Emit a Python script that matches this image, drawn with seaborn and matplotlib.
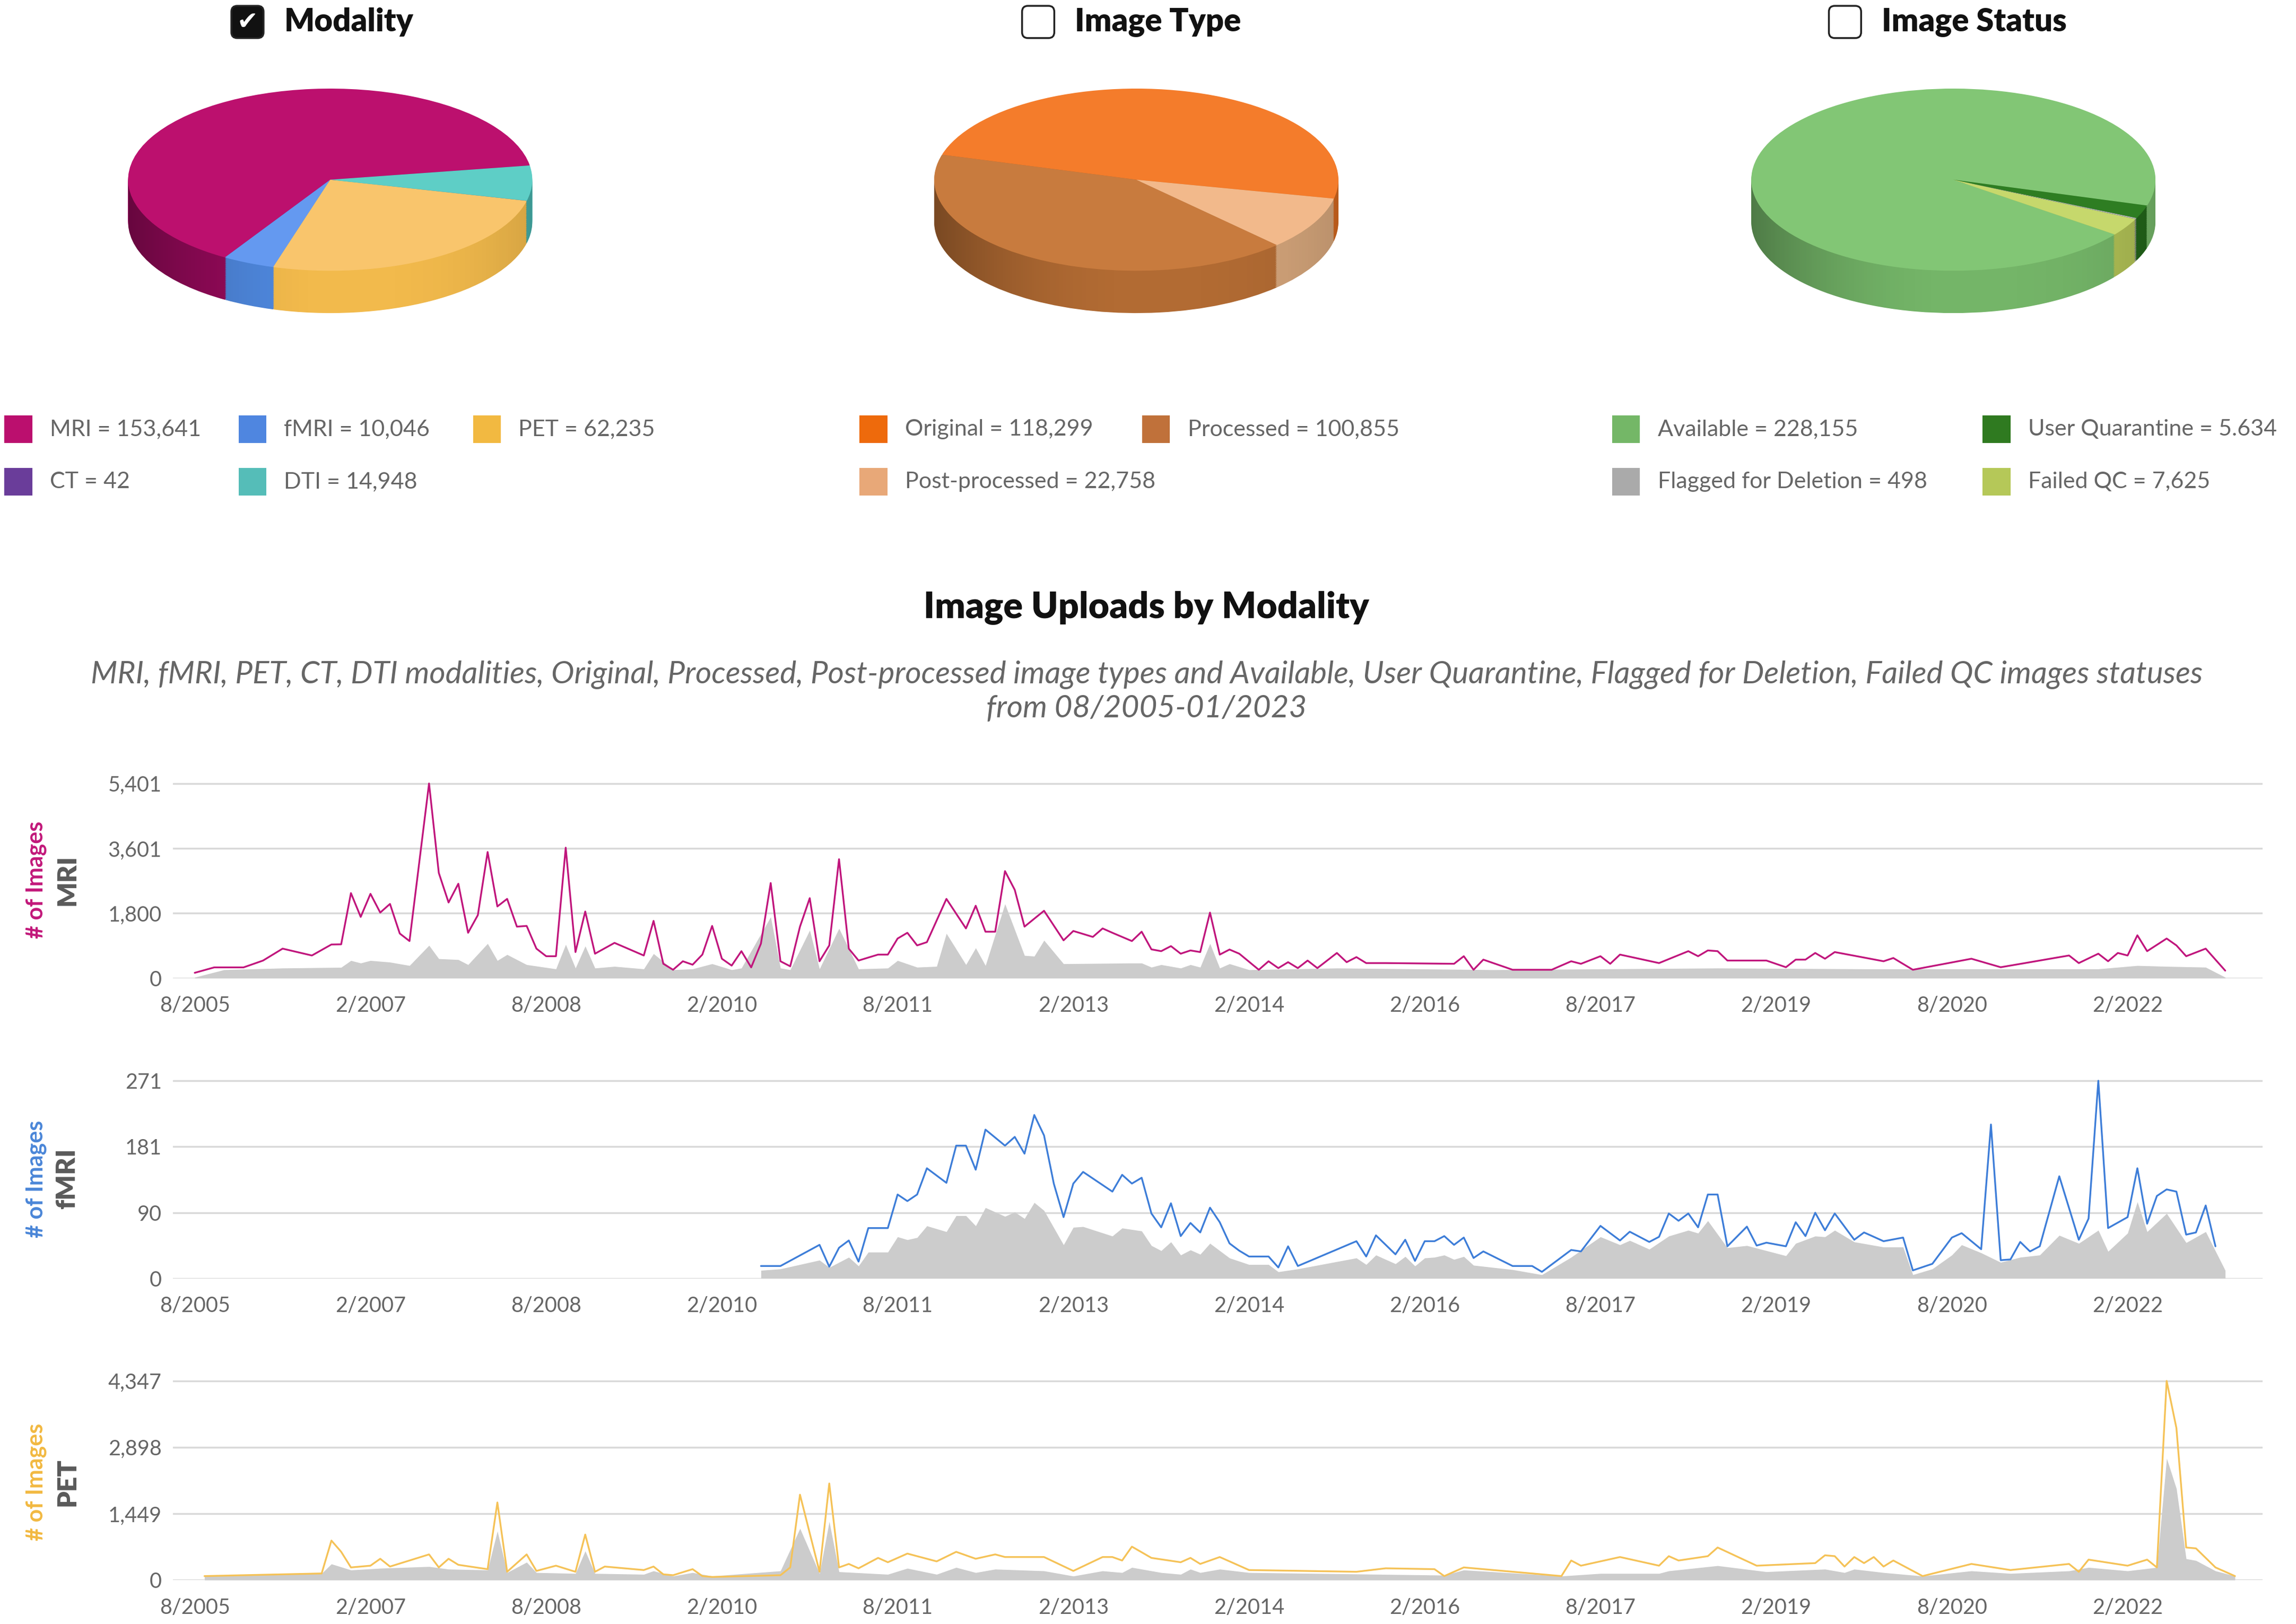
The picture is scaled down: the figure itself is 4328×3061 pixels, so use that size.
import matplotlib
matplotlib.use("Agg")
import matplotlib.pyplot as plt
import matplotlib.patches as mpatches
import numpy as np
import seaborn as sns

# --------------------------------------------------------------
# Data
# --------------------------------------------------------------
modality_labels = ["MRI", "fMRI", "PET", "CT", "DTI"]
modality_values = [153641, 10046, 62235, 42, 14948]
type_labels = ["Original", "Processed", "Post-processed"]
type_values = [118299, 100855, 22758]
status_labels = ["Available", "User Quarantine", "Flagged for Deletion", "Failed QC"]
status_values = [228155, 5634, 498, 7625]
status_printed = ["228,155", "5.634", "498", "7,625"]  # as printed in the legend

x_tick_labels = ["8/2005", "2/2007", "8/2008", "2/2010", "8/2011", "2/2013",
                 "2/2014", "2/2016", "8/2017", "2/2019", "8/2020", "2/2022"]
labels_every = 18  # one label every 18 categories

# MRI uploads (category index, number of images)
mri_pos = [0, 2, 5, 7, 9, 12, 14, 15, 16, 17, 18, 19, 20, 21, 22, 24, 25, 26, 27, 28,
           29, 30, 31, 32, 33, 34, 35, 36, 37, 38, 39, 40, 41, 43, 46, 47, 48, 49, 50, 51,
           52, 53, 54, 55, 56, 57, 58, 59, 60, 61, 62, 63, 64, 65, 66, 67, 68, 70, 71, 72,
           73, 74, 75, 77, 79, 80, 81, 82, 83, 84, 85, 87, 89, 90, 92, 93, 94, 96, 97, 98,
           99, 100, 101, 102, 103, 104, 105, 106, 107, 109, 110, 111, 112, 113, 114, 115,
           117, 118, 119, 120, 122, 129, 130, 131, 132, 135, 139, 141, 142, 144, 145, 146,
           150, 153, 154, 155, 156, 157, 161, 163, 164, 165, 166, 167, 168, 173, 174, 176,
           182, 185, 192, 193, 195, 196, 197, 198, 199, 200, 202, 203, 204, 206, 208]
mri_val = [150, 300, 300, 490, 820, 630, 935, 940, 2360, 1700, 2340, 1820, 2060, 1240, 1030,
           5401, 2920, 2100, 2620, 1260, 1750, 3500, 1990, 2200, 1430, 1450, 820, 610, 610,
           3620, 725, 1850, 680, 980, 630, 1590, 400, 234, 470, 375, 655, 1450, 540, 350,
           750, 300, 960, 2640, 470, 330, 1430, 2220, 470, 910, 3300, 820, 490, 655, 655,
           1100, 1260, 910, 1000, 2200, 1380, 2010, 1290, 1290, 2970, 2450, 1430, 1870,
           1050, 1310, 1145, 1380, 1260, 1030, 1290, 800, 750, 890, 680, 770, 725, 1820,
           655, 795, 680, 234, 470, 280, 445, 280, 490, 280, 700, 445, 585, 420, 420, 400,
           610, 234, 515, 234, 234, 470, 400, 610, 400, 655, 420, 750, 610, 770, 750, 490,
           490, 304, 515, 515, 700, 540, 725, 470, 560, 234, 540, 304, 630, 420, 680, 470,
           700, 630, 1190, 750, 1100, 910, 610, 820, 210]
mri_fill_pos = [0, 3, 9, 15, 16, 17, 18, 20, 22, 24, 25, 27, 28, 30, 31, 32, 34, 37, 38, 39,
                40, 41, 43, 46, 47, 49, 51, 53, 55, 56, 59, 60, 61, 63, 64, 66, 68, 71, 72, 74,
                76, 77, 79, 80, 81, 83, 85, 86, 87, 89, 96, 97, 98, 99, 101, 102, 103, 104,
                105, 106, 108, 117, 133, 156, 171, 195, 199, 202, 206, 208]
mri_fill_val = [25, 234, 280, 300, 490, 420, 490, 445, 350, 910, 540, 515, 375, 960, 490, 655,
                375, 257, 935, 280, 890, 280, 327, 257, 680, 234, 257, 400, 234, 280, 1700,
                280, 234, 1330, 257, 1380, 257, 280, 490, 304, 327, 1240, 375, 840, 350, 2060,
                630, 610, 1050, 400, 420, 420, 304, 375, 280, 375, 304, 960, 280, 400, 234,
                280, 234, 280, 257, 257, 350, 327, 304, 25]

# fMRI uploads
fmri_pos = [58, 60, 64, 65, 66, 67, 68, 69, 71, 72, 73, 74, 75, 77, 78, 79, 80, 81, 83, 84,
            85, 86, 87, 88, 89, 90, 91, 94, 95, 96, 97, 98, 99, 100, 101, 102, 103, 104, 105,
            106, 107, 108, 110, 111, 112, 113, 119, 120, 121, 123, 124, 125, 126, 127, 128,
            129, 130, 131, 132, 135, 137, 138, 141, 142, 144, 146, 147, 149, 150, 151, 152,
            153, 154, 155, 156, 157, 159, 160, 161, 163, 164, 165, 166, 167, 168, 170, 171,
            173, 175, 176, 178, 180, 181, 183, 184, 185, 186, 187, 188, 189, 191, 193, 194,
            195, 196, 198, 199, 200, 201, 202, 203, 204, 205, 206, 207]
fmri_val = [17, 17, 46, 16, 42, 52, 23, 69, 69, 115, 106, 115, 151, 131, 182, 182, 149, 204,
            182, 194, 171, 224, 196, 130, 84, 130, 146, 119, 142, 130, 138, 89, 70, 103, 58,
            76, 63, 97, 77, 48, 38, 30, 30, 15, 44, 17, 51, 30, 59, 33, 53, 24, 51, 51, 58,
            46, 56, 28, 37, 17, 17, 9, 39, 37, 72, 52, 64, 50, 57, 89, 79, 89, 70, 115, 115,
            44, 71, 45, 49, 44, 77, 58, 90, 66, 89, 53, 63, 51, 56, 11, 20, 56, 62, 40, 211,
            25, 26, 50, 37, 44, 140, 53, 82, 271, 69, 84, 151, 75, 113, 122, 119, 60, 63,
            100, 44]
fmri_fill_pos = [58, 60, 64, 65, 67, 68, 69, 71, 72, 73, 74, 75, 77, 78, 79, 80, 81, 83, 84,
                 85, 86, 87, 89, 90, 91, 94, 95, 97, 98, 99, 100, 101, 102, 103, 104, 106, 108,
                 110, 111, 113, 119, 120, 121, 123, 124, 125, 126, 127, 128, 129, 130, 131,
                 135, 138, 141, 144, 146, 147, 149, 151, 153, 154, 155, 157, 159, 163, 164,
                 166, 167, 168, 170, 173, 175, 176, 178, 180, 181, 183, 185, 187, 189, 191,
                 193, 195, 196, 198, 199, 200, 202, 204, 206, 208]
fmri_fill_val = [11, 13, 25, 15, 29, 17, 36, 36, 57, 53, 56, 72, 64, 86, 86, 72, 97, 85, 91,
                 82, 104, 93, 46, 70, 71, 58, 69, 65, 45, 38, 50, 32, 39, 33, 48, 28, 19, 19,
                 9, 13, 28, 19, 32, 20, 30, 17, 28, 29, 32, 26, 30, 18, 12, 5, 29, 57, 46, 52,
                 40, 58, 66, 62, 79, 42, 45, 31, 48, 58, 57, 66, 50, 43, 43, 5, 13, 32, 46, 35,
                 22, 29, 32, 59, 48, 66, 37, 62, 105, 64, 89, 49, 64, 11]

# PET uploads
pet_pos = [1, 13, 14, 15, 16, 18, 19, 20, 24, 25, 26, 27, 30, 31, 32, 34, 35, 37, 39, 40, 41,
           42, 46, 47, 48, 49, 51, 52, 53, 60, 61, 62, 64, 65, 66, 67, 68, 70, 71, 73, 76, 78,
           80, 82, 83, 87, 90, 93, 94, 95, 96, 98, 101, 102, 103, 105, 108, 119, 122, 127,
           128, 130, 140, 141, 142, 146, 150, 151, 152, 155, 156, 160, 166, 167, 168, 169,
           170, 171, 172, 173, 174, 177, 182, 186, 192, 193, 194, 198, 200, 201, 202, 203,
           204, 205, 207, 209]
pet_val = [87, 144, 862, 617, 276, 314, 465, 295, 560, 276, 465, 333, 238, 1694, 181, 560,
           200, 314, 181, 994, 181, 295, 219, 295, 125, 106, 238, 87, 68, 106, 276, 1864, 181,
           2109, 276, 352, 257, 484, 389, 578, 408, 616, 465, 560, 503, 503, 200, 503, 503,
           427, 730, 484, 389, 484, 352, 503, 219, 181, 257, 238, 87, 276, 87, 427, 314, 503,
           314, 522, 427, 522, 711, 314, 370, 541, 522, 295, 503, 370, 503, 295, 427, 87, 352,
           219, 352, 181, 446, 314, 446, 276, 4347, 3319, 711, 692, 276, 87]
pet_fill_pos = [1, 13, 14, 16, 19, 24, 26, 30, 31, 32, 34, 35, 39, 40, 41, 46, 47, 49, 51, 53,
                60, 62, 64, 65, 66, 71, 73, 76, 78, 80, 82, 87, 90, 93, 95, 96, 99, 101, 102,
                103, 105, 108, 128, 130, 140, 144, 150, 151, 156, 161, 167, 169, 170, 173, 177,
                182, 186, 192, 194, 198, 201, 202, 203, 204, 205, 207, 209]
pet_fill_val = [87, 144, 352, 219, 257, 295, 238, 219, 1070, 163, 389, 163, 144, 635, 144, 125,
                200, 87, 163, 87, 200, 1126, 144, 1278, 181, 125, 257, 125, 276, 163, 238, 200,
                87, 200, 163, 276, 163, 125, 238, 163, 238, 163, 106, 219, 87, 144, 144, 200,
                314, 181, 238, 163, 238, 163, 87, 200, 144, 200, 276, 200, 276, 2657, 1996,
                465, 427, 200, 87]

# --------------------------------------------------------------
# Styling
# --------------------------------------------------------------
sns.set_theme(style="white")
plt.rcParams["font.family"] = ["Lato", "DejaVu Sans"]

modality_top = ["#BC106E", "#6499F0", "#F9C56C", "#6B3A96", "#5ECEC6"]
modality_side = ["#980A5C", "#4F88DE", "#F2BA4C", "#4E2872", "#44ADA7"]
modality_legend = ["#BB0F6E", "#4F86E0", "#F2B941", "#6A3D9A", "#55BDB8"]
type_top = ["#F47C2B", "#C87B3E", "#F2B98B"]
type_side = ["#D0661F", "#B26B33", "#D3A47A"]
type_legend = ["#EE6A0C", "#C0713A", "#E8A878"]
status_top = ["#82C675", "#2E7D22", "#AFAFAF", "#C6D86C"]
status_side = ["#74B568", "#23651A", "#8E8E8E", "#AFBF55"]
status_legend = ["#74B767", "#2F7A20", "#AAAAAA", "#B5C858"]
status_order = [0, 3, 2, 1]  # slice order around the pie

GREY = "#666666"
W, H = 1568, 1109  # layout units (reference at 1/2.76 scale)


def rect(x0, y0, x1, y1):
    return [x0 / W, 1 - y1 / H, (x1 - x0) / W, (y1 - y0) / H]


fig = plt.figure(figsize=(43.28, 30.61), dpi=100)
ov = fig.add_axes([0, 0, 1, 1])
ov.set_xlim(0, W)
ov.set_ylim(H, 0)
ov.axis("off")

# --------------------------------------------------------------
# 3D-looking pies
# --------------------------------------------------------------
PIE_CY, PIE_RY, PIE_RX, PIE_DEPTH = 122.7, 62.2, 138, 28.9


def draw_pie(cx, values, top, side, start):
    ax = fig.add_axes(rect(cx - PIE_RX, PIE_CY - PIE_RY, cx + PIE_RX, PIE_CY + PIE_RY + PIE_DEPTH))
    depth = PIE_DEPTH / PIE_RY
    n = 30
    for k in range(n, 0, -1):
        ax.pie(values, colors=side, startangle=start, counterclock=True,
               center=(0, -depth * k / n), radius=1, wedgeprops=dict(linewidth=0))
    # cylinder shading on the visible side wall
    t = np.linspace(np.pi, 2 * np.pi, 200)
    wall = np.vstack([np.column_stack([np.cos(t), np.sin(t)]),
                      np.column_stack([np.cos(t[::-1]), np.sin(t[::-1]) - depth])])
    clip = mpatches.Polygon(wall, closed=True, transform=ax.transData, fc="none", ec="none")
    ax.add_patch(clip)
    gx = np.linspace(-1, 1, 300)
    shade = np.zeros((2, gx.size, 4))
    shade[..., 3] = 0.32 * np.clip(-gx, 0, None) ** 2 + 0.12 * np.clip(gx, 0, None) ** 3
    img = ax.imshow(shade, extent=(-1, 1, -1 - depth, 1), aspect="auto", zorder=5,
                    interpolation="bilinear")
    img.set_clip_path(clip)
    ax.pie(values, colors=top, startangle=start, counterclock=True,
           center=(0, 0), radius=1, wedgeprops=dict(linewidth=0, zorder=6))
    ax.set_aspect("auto")
    ax.set_xlim(-1, 1)
    ax.set_ylim(-1 - depth, 1)
    ax.axis("off")


draw_pie(225.5, modality_values, modality_top, modality_side, 9)
draw_pie(776, type_values, type_top, type_side, -12)
draw_pie(1334, [status_values[i] for i in status_order],
         [status_top[i] for i in status_order], [status_side[i] for i in status_order], -16.5)

# titles with checkboxes
for bx, title, checked in [(158, "Modality", True), (698, "Image Type", False),
                           (1249, "Image Status", False)]:
    box = mpatches.FancyBboxPatch((bx, 4), 22, 22, boxstyle="round,pad=0,rounding_size=4",
                                  fc="#111111" if checked else "white", ec="#222222", lw=2.5)
    ov.add_patch(box)
    if checked:
        ov.text(bx + 11, 15.5, "\u2714", color="white", fontsize=34, ha="center", va="center",
                family="DejaVu Sans")
    ov.text(bx + 36, 15, title, fontsize=43, fontweight="heavy", color="#111111",
            ha="left", va="center")

# legends
legend_rows = [293, 329]


def legend_items(cols, labels, colors):
    for (r, c), lab, col in zip(cols, labels, colors):
        y = legend_rows[r]
        ov.add_patch(mpatches.Rectangle((c, y - 9.5), 19, 19, fc=col, ec="none"))
        ov.text(c + 31, y, lab, fontsize=31, color=GREY, ha="left", va="center")


legend_items([(0, 3), (0, 163), (0, 323), (1, 3), (1, 163)],
             [f"{l} = {v:,}" for l, v in zip(modality_labels, modality_values)], modality_legend)
legend_items([(0, 587), (0, 780), (1, 587)],
             [f"{l} = {v:,}" for l, v in zip(type_labels, type_values)], type_legend)
legend_items([(0, 1101), (0, 1354), (1, 1101), (1, 1354)],
             [f"{l} = {v}" for l, v in zip(status_labels, status_printed)], status_legend)

# --------------------------------------------------------------
# Uploads over time
# --------------------------------------------------------------
ov.text(783, 415, "Image Uploads by Modality", fontsize=49, fontweight="heavy",
        color="#111111", ha="center", va="center")
ov.text(783, 461, "MRI, fMRI, PET, CT, DTI modalities, Original, Processed, Post-processed image "
        "types and Available, User Quarantine, Flagged for Deletion, Failed QC images statuses",
        fontsize=42, style="italic", color=GREY, ha="center", va="center")
ov.text(783, 484, "from 08/2005-01/2023", fontsize=42, style="italic", color=GREY,
        ha="center", va="center")

panels = [
    ("MRI", mri_pos, mri_val, mri_fill_pos, mri_fill_val, "#C0157C", "#C2187A", 535, 668, 601),
    ("fMRI", fmri_pos, fmri_val, fmri_fill_pos, fmri_fill_val, "#3D7DD8", "#4A86D8", 738, 873, 805),
    ("PET", pet_pos, pet_val, pet_fill_pos, pet_fill_val, "#F5C257", "#F2B941", 943, 1079, 1012),
]
head = 1.04
for name, lp, lv, fp, fv, line_col, lab_col, top, zero, mid in panels:
    ymax = max(lv)
    ax = fig.add_axes(rect(118, zero - (zero - top) * head, 1545, zero))
    ax.patch.set_alpha(0)
    ax.fill_between(fp, fv, color="#CCCCCC", lw=0, zorder=2)
    sns.lineplot(x=lp, y=lv, ax=ax, color=line_col, linewidth=2.4, estimator=None, zorder=3)
    ticks = np.round(np.linspace(0, ymax, 4))
    ax.set_yticks(ticks)
    ax.set_yticklabels([f"{int(t):,}" for t in ticks])
    ax.set_ylim(0, ymax * head)
    ax.set_xlim(-2.25, 211.8)
    ax.set_xticks(np.arange(len(x_tick_labels)) * labels_every)
    ax.set_xticklabels(x_tick_labels)
    ax.grid(axis="y", color="#D9D9D9", lw=2.5, zorder=0)
    ax.set_axisbelow(True)
    sns.despine(ax=ax, left=True, bottom=True)
    ax.tick_params(length=0, labelsize=28.5, labelcolor=GREY)
    ax.tick_params(axis="x", pad=24)
    ax.tick_params(axis="y", pad=15)
    ax.set_xlabel("")
    ax.set_ylabel("")
    ov.text(24.5, mid, "# of Images", rotation=90, fontsize=31, fontweight="bold",
            color=lab_col, ha="center", va="center")
    ov.text(46, mid, name, rotation=90, fontsize=36, fontweight="heavy",
            color="#5A5A5A", ha="center", va="center")

fig.savefig("out.png", dpi=100)
